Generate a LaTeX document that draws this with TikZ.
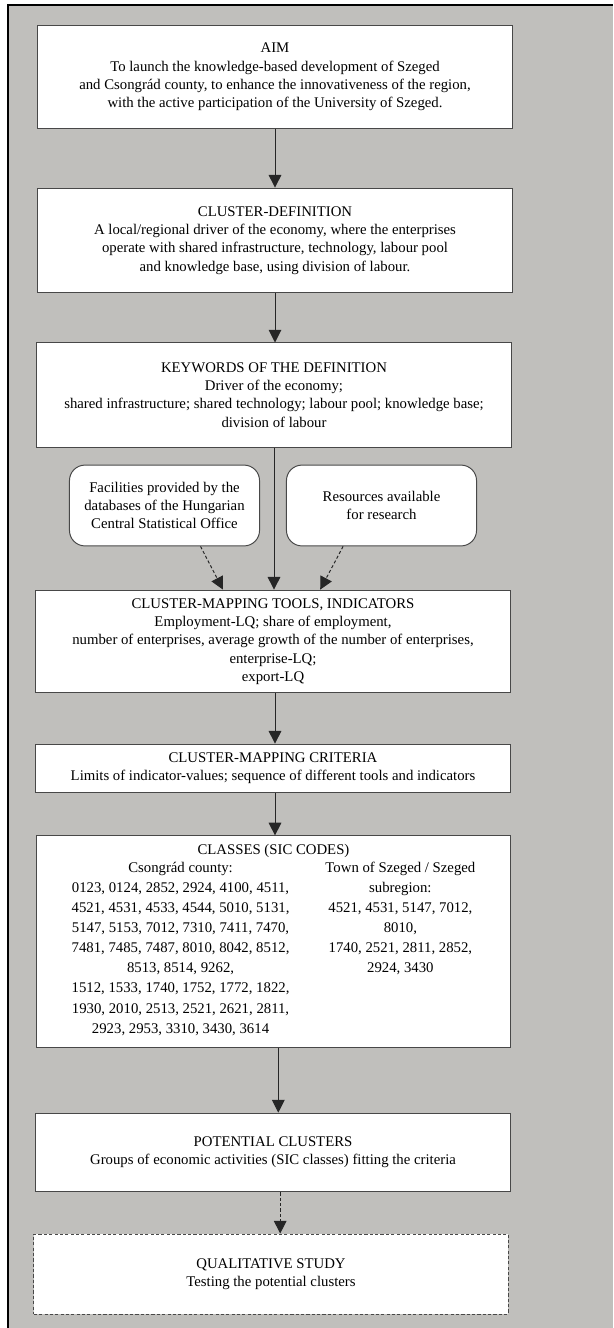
\documentclass[tikz,border=0pt]{standalone}
\usepackage{fontspec}
\setmainfont{Liberation Serif}
\usetikzlibrary{arrows.meta,positioning}
\definecolor{framegray}{RGB}{192,191,188}
\definecolor{edgegray}{RGB}{72,72,72}

\begin{document}
\begin{tikzpicture}[x=0.025cm, y=-0.025cm, >={Triangle[width=9pt,length=9pt]},
  box/.style={draw=edgegray, fill=white, line width=0.7pt, align=center, minimum width=11.85cm, font=\fontsize{10.5}{13}\selectfont},
  softbox/.style={box, rounded corners=11pt, minimum width=4.75cm, minimum height=2.02cm},
  openbox/.style={box, dash pattern=on 2.2pt off 1.6pt},
  link/.style={->, draw=black!85, line width=0.7pt},
  hint/.style={link, dash pattern=on 2.2pt off 1.6pt}]
\useasboundingbox (0,0) rectangle (613,1328);
% grey frame
\fill[framegray] (8,5) rectangle (613,1328);
\draw[line width=1pt] (8,1328) -- (8,5) -- (613,5);

\node[box, minimum height=2.55cm] (aim) at (275,77) {AIM\\To launch the knowledge-based development of Szeged\\and Csongrád county, to enhance the innovativeness of the region,\\with the active participation of the University of Szeged.};
\node[box, minimum height=2.62cm] (def) at (275,240.5) {CLUSTER-DEFINITION\\A local/regional driver of the economy, where the enterprises\\operate with shared infrastructure, technology, labour pool\\and knowledge base, using division of labour.};
\node[box, minimum height=2.6cm] (keys) at (274,395) {KEYWORDS OF THE DEFINITION\\Driver of the economy;\\shared infrastructure; shared technology; labour pool; knowledge base;\\division of labour};
\node[softbox] (fac) at (164.5,505.5) {Facilities provided by the\\databases of the Hungarian\\Central Statistical Office};
\node[softbox] (res) at (381.5,505.5) {Resources available\\for research};
\node[box, minimum height=2.57cm] (tools) at (273,641.5) {CLUSTER-MAPPING TOOLS, INDICATORS\\Employment-LQ; share of employment,\\number of enterprises, average growth of the number of enterprises,\\enterprise-LQ;\\export-LQ};
\node[box, minimum height=1.22cm] (crit) at (273,768.5) {CLUSTER-MAPPING CRITERIA\\Limits of indicator-values; sequence of different tools and indicators};
\node[box, minimum height=5.28cm] (classes) at (273.5,941.5) {CLASSES (SIC CODES)\\
  \def\arraystretch{1.1}%
  \begin{tabular}[t]{@{}c@{}}
  Csongrád county:\\
  0123, 0124, 2852, 2924, 4100, 4511,\\
  4521, 4531, 4533, 4544, 5010, 5131,\\
  5147, 5153, 7012, 7310, 7411, 7470,\\
  7481, 7485, 7487, 8010, 8042, 8512,\\
  8513, 8514, 9262,\\
  1512, 1533, 1740, 1752, 1772, 1822,\\
  1930, 2010, 2513, 2521, 2621, 2811,\\
  2923, 2953, 3310, 3430, 3614
  \end{tabular}\hspace{0.9cm}%
  \begin{tabular}[t]{@{}c@{}}
  Town of Szeged / Szeged\\
  subregion:\\
  4521, 4531, 5147, 7012,\\
  8010,\\
  1740, 2521, 2811, 2852,\\
  2924, 3430
  \end{tabular}};
\node[box, minimum height=1.97cm] (pot) at (273,1152.5) {POTENTIAL CLUSTERS\\Groups of economic activities (SIC classes) fitting the criteria};
\node[openbox, minimum height=2cm] (qual) at (271,1274) {QUALITATIVE STUDY\\Testing the potential clusters};

\draw[link] (aim.south) -- (aim.south |- def.north);
\draw[link] (def.south) -- (def.south |- keys.north);
\draw[link] (keys.south) -- (keys.south |- tools.north);
\draw[hint] ([xshift=0.9cm]fac.south) -- ([xshift=-1.25cm]tools.north);
\draw[hint] ([xshift=-0.96cm]res.south) -- ([xshift=1.18cm]tools.north);
\draw[link] ([xshift=0.05cm]tools.south) -- ([xshift=0.05cm]tools.south |- crit.north);
\draw[link] ([xshift=0.05cm]crit.south) -- ([xshift=0.05cm]crit.south |- classes.north);
\draw[link] ([xshift=0.12cm]classes.south) -- ([xshift=0.12cm]classes.south |- pot.north);
\draw[hint] ([xshift=0.18cm]pot.south) -- ([xshift=0.18cm]pot.south |- qual.north);
\end{tikzpicture}
\end{document}
